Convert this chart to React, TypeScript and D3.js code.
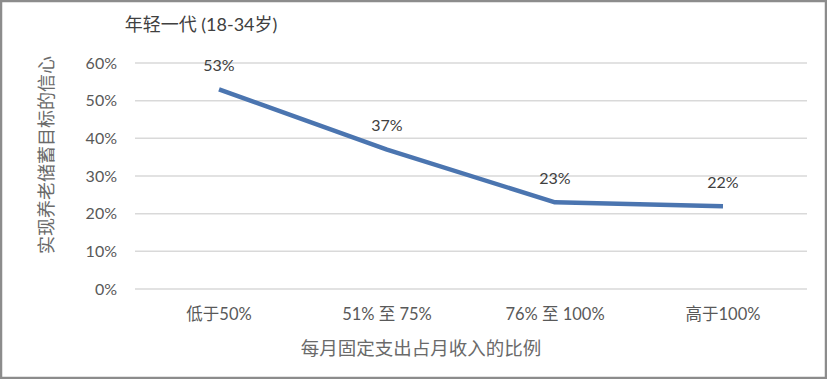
import React from "react";
import * as d3 from "d3";

const categories = ["低于50%", "51% 至 75%", "76% 至 100%", "高于100%"];
const values = [0.53, 0.37, 0.23, 0.22];
const yTicks = [0, 0.1, 0.2, 0.3, 0.4, 0.5, 0.6];
const title = "年轻一代 (18-34岁)";
const yTitle = "实现养老储蓄目标的信心";
const xTitle = "每月固定支出占月收入的比例";

const W = 827, H = 379;
const left = 135, right = 807, top = 63, bottom = 289;
const FONT = "Lato, 'Noto Sans CJK SC', sans-serif";
const TXT = "#595959";

export default function App() {
  const x = d3.scaleBand<string>().domain(categories).range([left, right]);
  const y = d3.scaleLinear().domain([0, 0.6]).range([bottom, top]);
  const line = d3.line<number>()
    .x((_, i) => (x(categories[i]) as number) + x.bandwidth() / 2)
    .y((d) => y(d));
  return (
    <svg width={W} height={H} style={{ position: "absolute", left: 0, top: 0, background: "#fff" }}>
      <rect x={1} y={1} width={W - 2} height={H - 2} fill="#fff" stroke="#8c8c8c" strokeWidth={2.5} />
      {yTicks.map((t) => (
        <g key={t}>
          <line x1={left} x2={right} y1={y(t)} y2={y(t)} stroke="#d9d9d9" strokeWidth={1.5} />
          <text x={117} y={y(t)} dy="0.35em" textAnchor="end" fontFamily={FONT} fontSize={16} fill={TXT}>
            {d3.format(".0%")(t)}
          </text>
        </g>
      ))}
      {categories.map((c) => (
        <text key={c} x={(x(c) as number) + x.bandwidth() / 2} y={314} dy="0.35em" textAnchor="middle"
          fontFamily={FONT} fontSize={16.5} fill={TXT}>{c}</text>
      ))}
      <path d={line(values) || ""} fill="none" stroke="#4b75b0" strokeWidth={4.5} strokeLinejoin="round" />
      {values.map((v, i) => (
        <text key={i} x={(x(categories[i]) as number) + x.bandwidth() / 2} y={y(v) - 24} dy="0.35em"
          textAnchor="middle" fontFamily={FONT} fontSize={16} fill="#404040">{d3.format(".0%")(v)}</text>
      ))}
      <text x={201} y={25} dy="0.35em" textAnchor="middle" fontFamily={FONT} fontSize={18} fill="#404040">{title}</text>
      <text transform={`translate(47,${155}) rotate(-90)`} dy="0.35em" textAnchor="middle"
        fontFamily={FONT} fontSize={18} fill="#6a6a6a">{yTitle}</text>
      <text x={421} y={349} dy="0.35em" textAnchor="middle" fontFamily={FONT} fontSize={18.5} fill="#6a6a6a">{xTitle}</text>
    </svg>
  );
}
